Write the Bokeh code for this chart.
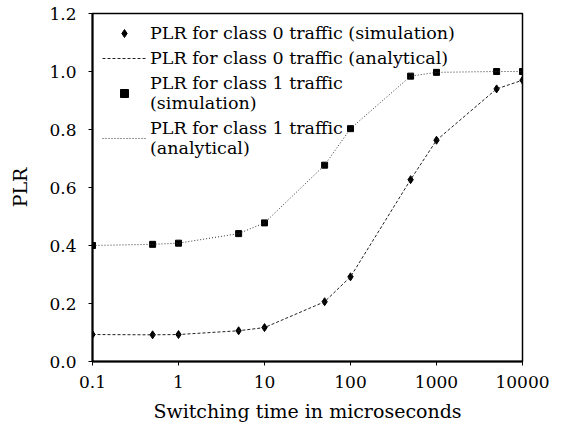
from bokeh.plotting import figure
from bokeh.models import FixedTicker, NumeralTickFormatter, Legend, LegendItem, Range1d
from bokeh.embed import file_html
from bokeh.resources import INLINE

# ---- data ----
switching_time = [0.1, 0.5, 1, 5, 10, 50, 100, 500, 1000, 5000, 10000]
plr0_sim = [0.093, 0.092, 0.093, 0.106, 0.117, 0.206, 0.292, 0.627, 0.763, 0.940, 0.970]
plr0_ana = [0.093, 0.092, 0.093, 0.106, 0.117, 0.206, 0.292, 0.627, 0.763, 0.940, 0.970]
plr1_sim = [0.400, 0.404, 0.408, 0.441, 0.478, 0.677, 0.803, 0.984, 0.997, 1.000, 1.000]
plr1_ana = [0.400, 0.404, 0.408, 0.441, 0.478, 0.677, 0.803, 0.984, 0.997, 1.000, 1.000]
x_ticks = [0.1, 1, 10, 100, 1000, 10000]
x_tick_labels = ["0.1", "1", "10", "100", "1000", "10000"]
y_ticks = [0.0, 0.2, 0.4, 0.6, 0.8, 1.0, 1.2]
labels = ["PLR for class 0 traffic (simulation)",
          "PLR for class 0 traffic (analytical)",
          "PLR for class 1 traffic\n(simulation)",
          "PLR for class 1 traffic\n(analytical)"]

FONT = "'DejaVu Serif', 'Liberation Serif', serif"

p = figure(width=563, height=433, x_axis_type="log", output_backend="svg",
           toolbar_location=None, x_range=Range1d(0.1, 10000), y_range=Range1d(0, 1.2),
           min_border_left=92, min_border_right=41, min_border_top=13, min_border_bottom=72)
p.background_fill_color = "white"
p.border_fill_color = "white"
p.xgrid.visible = False
p.ygrid.visible = False
p.outline_line_color = "black"
p.outline_line_width = 1.5

r0s = p.scatter(switching_time, plr0_sim, marker="diamond", size=8, color="black")
r0a = p.line(switching_time, plr0_ana, line_color="#222222", line_width=1, line_dash="3 2")
r1s = p.scatter(switching_time, plr1_sim, marker="square", size=6, color="black")
r1a = p.line(switching_time, plr1_ana, line_color="#333333", line_width=1, line_dash="1 2")

p.xaxis.ticker = FixedTicker(ticks=x_ticks)
p.xaxis.major_label_overrides = {t: l for t, l in zip(x_ticks, x_tick_labels)}
p.yaxis.ticker = FixedTicker(ticks=y_ticks)
p.yaxis.formatter = NumeralTickFormatter(format="0.0")

for ax in (p.xaxis, p.yaxis):
    ax.axis_line_color = "black"
    ax.axis_line_width = 2
    ax.major_tick_line_color = "black"
    ax.major_tick_in = 0
    ax.major_tick_out = 4
    ax.minor_tick_line_color = None
    ax.major_label_text_font = FONT
    ax.major_label_text_font_size = "17px"
    ax.major_label_text_color = "black"
    ax.axis_label_text_font = FONT
    ax.axis_label_text_font_size = "19px"
    ax.axis_label_text_font_style = "normal"
    ax.axis_label_text_color = "black"

p.xaxis.axis_label = "Switching time in microseconds"
p.yaxis.axis_label = "PLR"
p.xaxis.major_label_standoff = 10
p.yaxis.major_label_standoff = 12
p.xaxis.axis_label_standoff = 9
p.yaxis.axis_label_standoff = 15

legend = Legend(items=[LegendItem(label=labels[0], renderers=[r0s]),
                       LegendItem(label=labels[1], renderers=[r0a]),
                       LegendItem(label=labels[2], renderers=[r1s]),
                       LegendItem(label=labels[3], renderers=[r1a])],
                location="top_left")
legend.border_line_color = None
legend.background_fill_alpha = 0
legend.label_text_font = FONT
legend.label_text_font_size = "17.5px"
legend.label_text_color = "black"
legend.glyph_width = 44
legend.label_height = 20
legend.label_standoff = 4
legend.padding = 6
legend.margin = 10
legend.spacing = 5
p.add_layout(legend)

open("out.html", "w").write(file_html(p, INLINE))
